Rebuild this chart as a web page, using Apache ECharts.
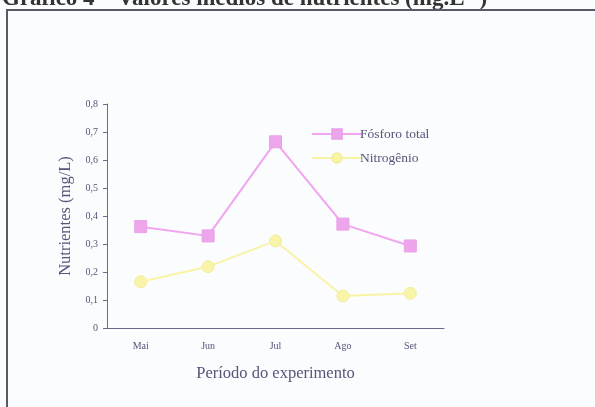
<!DOCTYPE html>
<html><head><meta charset="utf-8">
<script src="https://cdn.jsdelivr.net/npm/echarts@6/dist/echarts.min.js"></script>
<style>html,body{margin:0;padding:0;background:#fbfcfd;}#c{width:595px;height:407px;}</style>
</head><body><div id="c"></div>
<script>
var categories = ['Mai', 'Jun', 'Jul', 'Ago', 'Set'];
var fosforo = [0.362, 0.329, 0.665, 0.371, 0.293];
var nitrogenio = [0.165, 0.219, 0.311, 0.114, 0.124];
var seriesNames = ['Fósforo total', 'Nitrogênio'];
var titleText = 'Gráfico 4 – Valores médios de nutrientes (mg.L⁻¹)';

var chart = echarts.init(document.getElementById('c'), null, {renderer: 'canvas'});
var txt = '#55557a';
var serif = '"Liberation Serif", "DejaVu Serif", serif';
chart.setOption({
  backgroundColor: '#fbfcfd',
  animation: false,
  graphic: [
    {type: 'text', left: 2, top: -12, style: {text: titleText, font: 'bold 23px "Liberation Serif", serif', fill: '#333'}},
    {type: 'rect', shape: {x: 7, y: 10, width: 620, height: 420}, style: {fill: 'none', stroke: '#5a5a66', lineWidth: 2}}
  ],
  legend: {
    data: seriesNames,
    orient: 'vertical',
    left: 306, top: 122,
    itemWidth: 50, itemHeight: 12, itemGap: 10,
    textStyle: {fontFamily: serif, fontSize: 13.5, color: txt, padding: [0, 0, 0, -7]}
  },
  grid: {left: 107, right: 151, top: 104, bottom: 79},
  xAxis: {
    type: 'category', data: categories, boundaryGap: true,
    name: 'Período do experimento', nameLocation: 'middle', nameGap: 37,
    nameTextStyle: {fontFamily: serif, fontSize: 16.5, color: txt},
    axisLine: {lineStyle: {color: '#6a6a8c', width: 1}},
    axisTick: {alignWithLabel: false, length: 4, lineStyle: {color: '#6a6a8c'}},
    axisLabel: {fontFamily: serif, fontSize: 10, color: txt, margin: 13}
  },
  yAxis: {
    type: 'value', min: 0, max: 0.8, interval: 0.1,
    name: 'Nutrientes (mg/L)', nameLocation: 'middle', nameGap: 33,
    nameTextStyle: {fontFamily: serif, fontSize: 16.5, color: txt},
    axisLine: {show: true, lineStyle: {color: '#6a6a8c', width: 1}},
    axisTick: {show: true, length: 4, lineStyle: {color: '#6a6a8c'}},
    splitLine: {show: false},
    axisLabel: {fontFamily: serif, fontSize: 10, color: txt, margin: 9,
      formatter: function (v) { return v === 0 ? '0' : v.toFixed(1).replace('.', ','); }}
  },
  series: [
    {name: seriesNames[0], type: 'line', data: fosforo,
     symbol: 'rect', symbolSize: 12,
     lineStyle: {color: '#f2a4f0', width: 2},
     itemStyle: {color: '#eda6ec', borderColor: '#e9a0e8', borderWidth: 1}},
    {name: seriesNames[1], type: 'line', data: nitrogenio,
     symbol: 'circle', symbolSize: 12,
     lineStyle: {color: '#f8f4a6', width: 2},
     itemStyle: {color: '#f8f4a8', borderColor: '#f4ee9c', borderWidth: 1}}
  ]
});
</script></body></html>
